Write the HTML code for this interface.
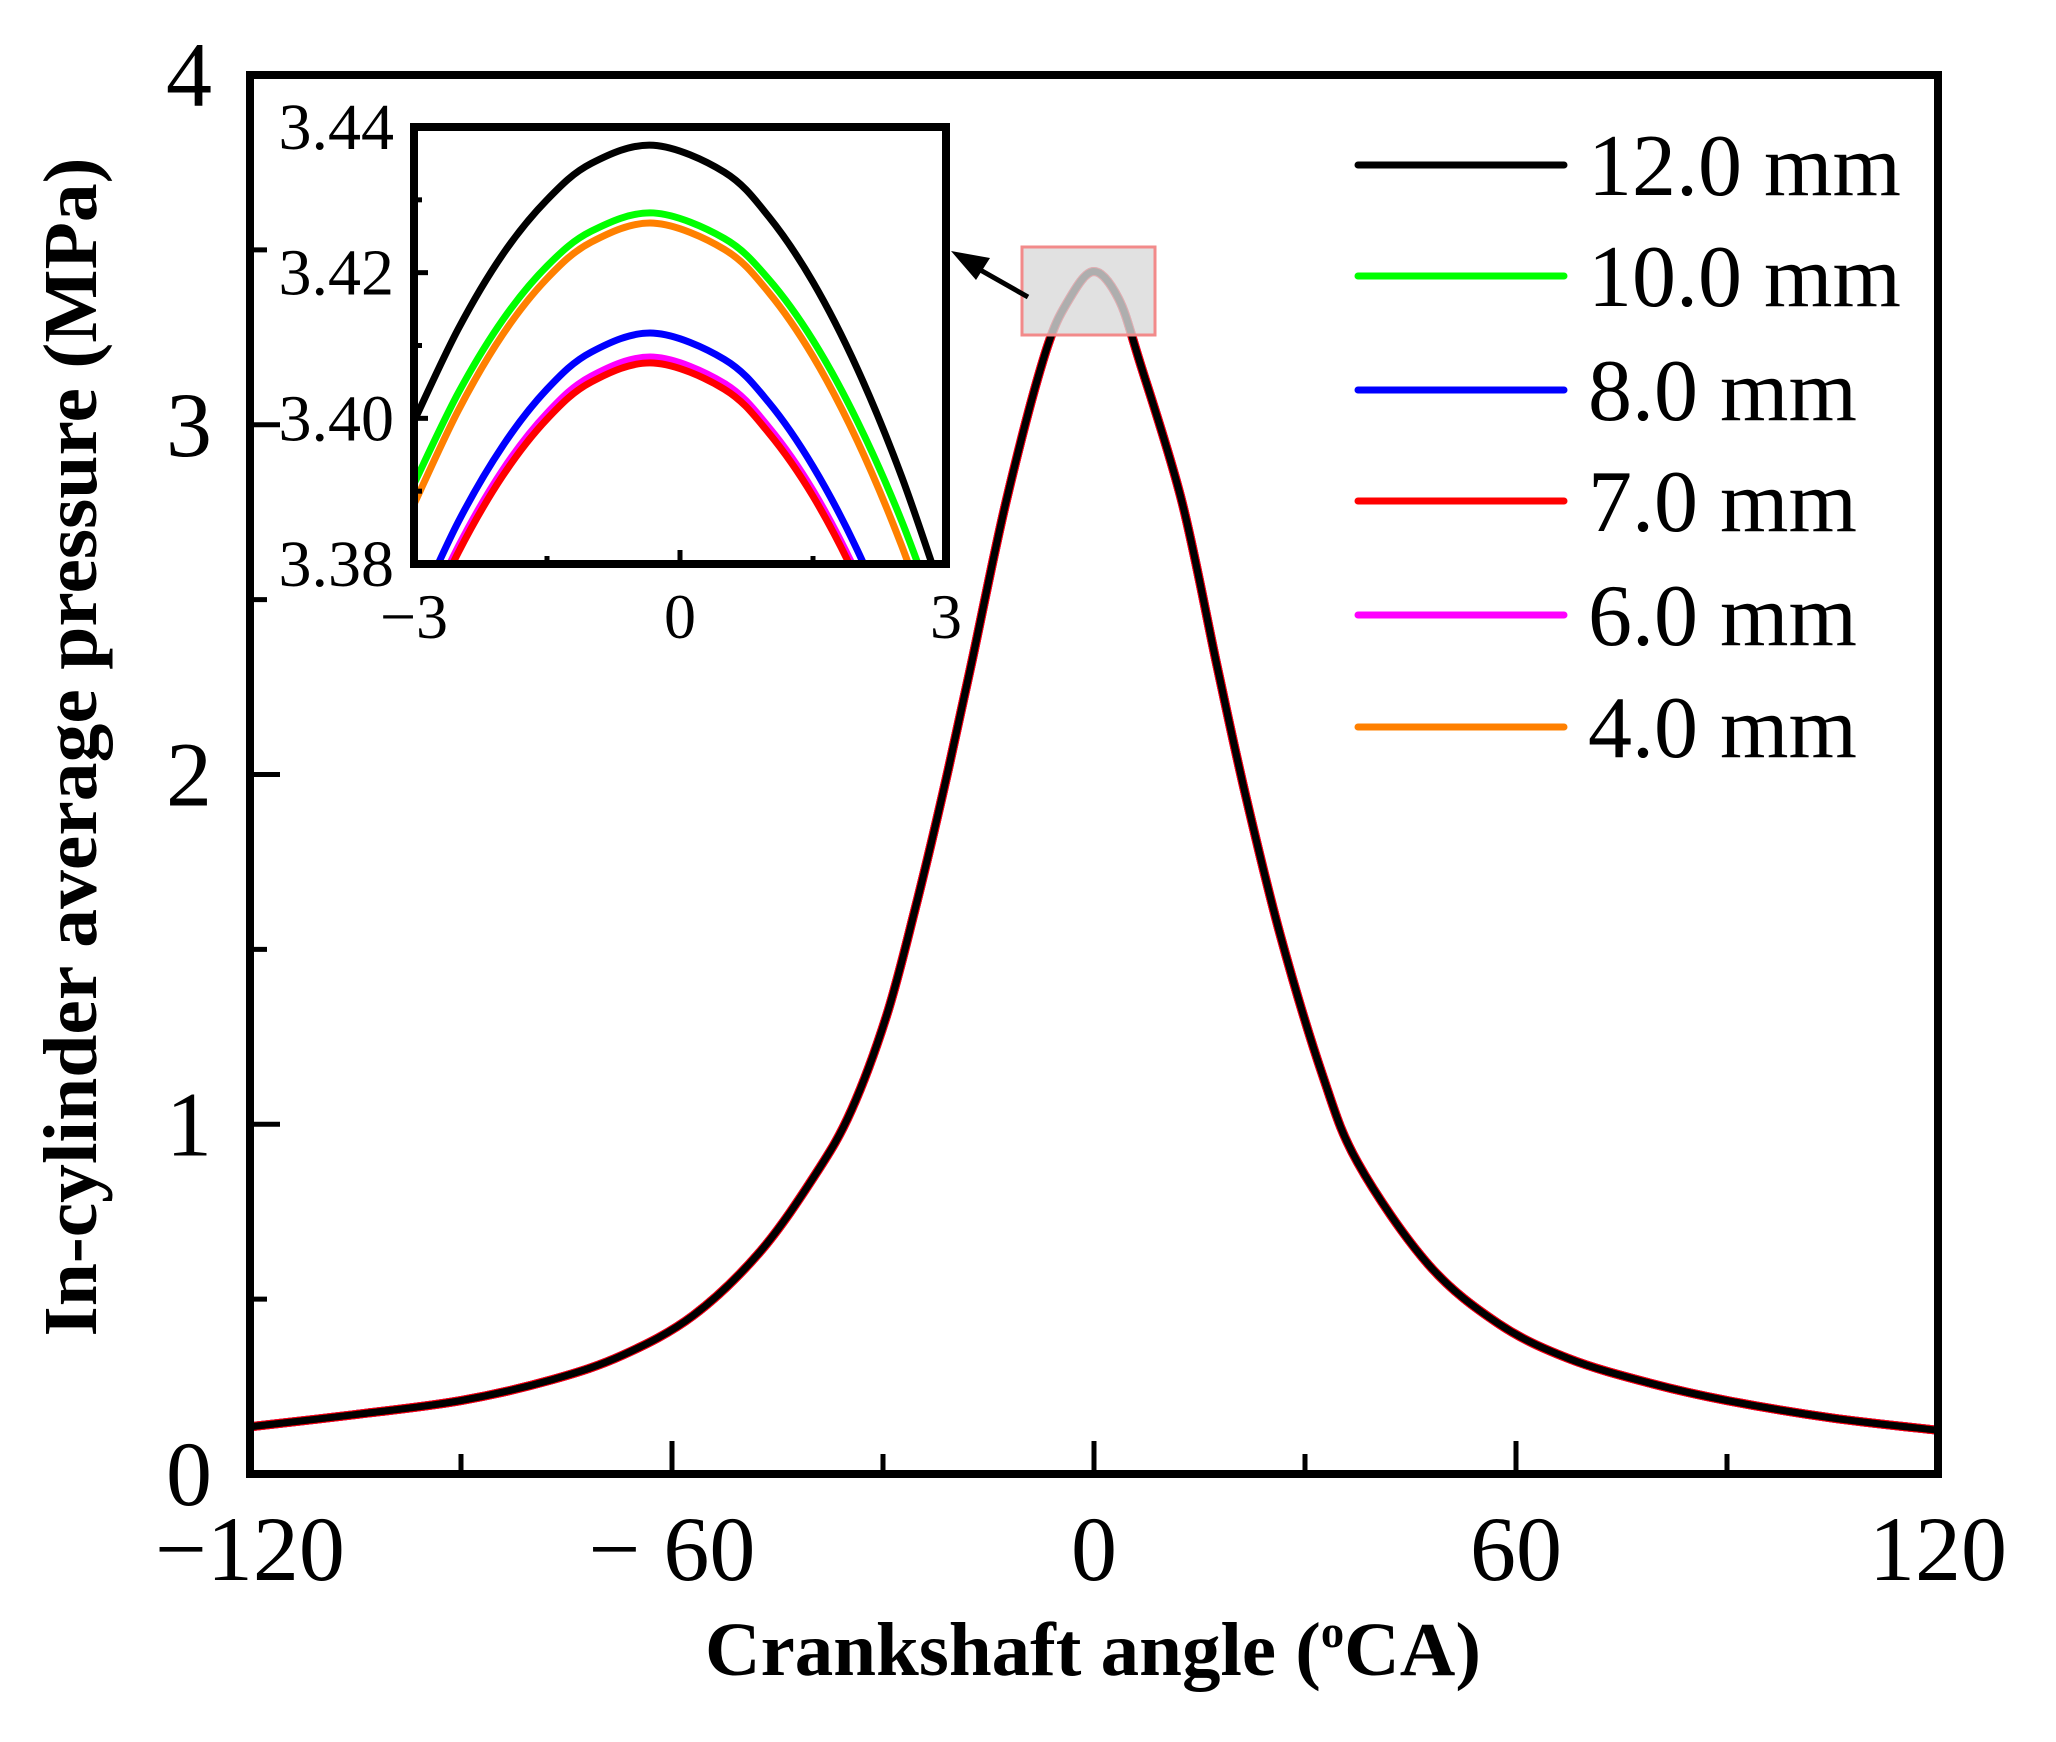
<!DOCTYPE html>
<html><head><meta charset="utf-8"><style>
html,body{margin:0;padding:0;background:#fff;}
svg{display:block;}
text{font-family:"Liberation Serif","Times New Roman",serif;fill:#000;}
</style></head><body>
<svg id="chart" width="2056" height="1742" viewBox="0 0 2056 1742" xmlns="http://www.w3.org/2000/svg">
<defs>
<clipPath id="insetClip"><rect x="414" y="127" width="532" height="437"/></clipPath>
<clipPath id="mainClip"><rect x="250" y="75" width="1688" height="1399"/></clipPath>
</defs>
<g id="main-series" clip-path="url(#mainClip)"></g>
<rect x="1022" y="247" width="133" height="88" fill="#d9d9d9" fill-opacity="0.8" stroke="#f28a8a" stroke-width="3"/>
<g id="axes"></g>
<g id="inset"></g>
<g id="legend"></g>
<line x1="1028" y1="297" x2="968" y2="263" stroke="#000" stroke-width="5"/>
<polygon points="951,251 990,258 976,280" fill="#000"/>
<text x="1093" y="1675" text-anchor="middle" font-size="76" font-weight="bold" textLength="776" lengthAdjust="spacingAndGlyphs">Crankshaft angle (<tspan font-size="46" dy="-28">o</tspan><tspan dy="28">CA)</tspan></text>
<text transform="translate(96,747) rotate(-90)" text-anchor="middle" font-size="76" font-weight="bold" textLength="1179" lengthAdjust="spacingAndGlyphs">In-cylinder average pressure (MPa)</text>
</svg>
<script>
// ---- main chart data ----
const mainAngles = [-120,-105,-90,-77,-67,-57,-47.5,-39.5,-34.5,-29.5,-25.5,-21.5,-17.5,-12.5,-7,-3.5,0,3.5,6.5,12.5,17.5,21.5,26.5,32.5,37.5,47.5,57.5,67.5,79,90,105,120];
const mainPressure = [0.135,0.17,0.21,0.27,0.34,0.453,0.635,0.86,1.04,1.31,1.61,1.945,2.31,2.78,3.20,3.36,3.438,3.36,3.18,2.78,2.31,1.945,1.54,1.14,0.89,0.60,0.43,0.33,0.26,0.21,0.16,0.125];
const xTicksMajor = [-120,-60,0,60,120];
const xTicksMinor = [-90,-30,30,90];
const xTickLabels = ["\u2212120","\u2212 60","0","60","120"];
const yTicksMajor = [0,1,2,3,4];
const yTicksMinor = [0.5,1.5,2.5,3.5];
const yTickLabels = ["0","1","2","3","4"];
// ---- series ----
const seriesNames = ["12.0 mm","10.0 mm","8.0 mm","7.0 mm","6.0 mm","4.0 mm"];
const seriesColors = ["#000000","#00ff00","#0000ff","#ff0000","#ff00ff","#ff8000"];
// ---- inset data ----
const insetAngles = [-3,-2.5,-2,-1.5,-1,-0.3,0.5,1,1.5,2,2.5,3];
const inset12 = [3.3996,3.4123,3.4225,3.4300,3.4350,3.4375,3.4338,3.4277,3.4187,3.4068,3.3920,3.3743];
const inset10 = [3.3910,3.4035,3.4135,3.4209,3.4257,3.4282,3.4247,3.4191,3.4107,3.3996,3.3859,3.3694];
const inset8  = [3.3727,3.3858,3.3962,3.4040,3.4091,3.4117,3.4081,3.4022,3.3934,3.3819,3.3675,3.3503];
const inset7  = [3.3685,3.3816,3.3921,3.3999,3.4050,3.4076,3.4040,3.3980,3.3893,3.3777,3.3632,3.3460];
const inset6  = [3.3693,3.3824,3.3929,3.4007,3.4058,3.4084,3.4048,3.3988,3.3901,3.3785,3.3640,3.3468];
const inset4  = [3.3882,3.4011,3.4115,3.4192,3.4242,3.4268,3.4232,3.4173,3.4085,3.3969,3.3825,3.3653];
const insetXTicks = [-3,0,3];
const insetXMinor = [-1.5,1.5];
const insetYTicks = [3.38,3.40,3.42,3.44];
const insetYMinor = [3.39,3.41,3.43];
const insetYLabels = ["3.38","3.40","3.42","3.44"];

const NS="http://www.w3.org/2000/svg";
function mk(tag,attrs,parent){const e=document.createElementNS(NS,tag);for(const k in attrs)e.setAttribute(k,attrs[k]);parent.appendChild(e);return e;}
const L=250,R=1938,T=75,B=1474;
const xs=v=>L+(v+120)/240*(R-L);
const ys=v=>B-v/4*(B-T);
const IL=414,IR=946,IT=127,IB=564;
const ixs=v=>IL+(v+3)/6*(IR-IL);
const iys=v=>IB-(v-3.38)/0.06*(IB-IT);

function smoothPath(px,py){
  let d="M"+px[0].toFixed(2)+","+py[0].toFixed(2);
  for(let i=0;i<px.length-1;i++){
    const x0=px[Math.max(i-1,0)],y0=py[Math.max(i-1,0)],x1=px[i],y1=py[i],x2=px[i+1],y2=py[i+1],x3=px[Math.min(i+2,px.length-1)],y3=py[Math.min(i+2,px.length-1)];
    const c1x=x1+(x2-x0)/6,c1y=y1+(y2-y0)/6,c2x=x2-(x3-x1)/6,c2y=y2-(y3-y1)/6;
    d+=" C"+c1x.toFixed(2)+","+c1y.toFixed(2)+" "+c2x.toFixed(2)+","+c2y.toFixed(2)+" "+x2.toFixed(2)+","+y2.toFixed(2);
  }
  return d;
}

const mg=document.getElementById("main-series");
const order=[1,5,2,4,3,0];
const insetSeries=[inset12,inset10,inset8,inset7,inset6,inset4];
order.forEach(i=>{
  const p=mk("path",{d:smoothPath(mainAngles.map(xs),mainPressure.map(ys)),fill:"none",stroke:seriesColors[i],"stroke-width":i===0?7:9,"stroke-linejoin":"round"},mg);
  
  
});

// axes
const ax=document.getElementById("axes");
const frame=mk("rect",{x:L,y:T,width:R-L,height:B-T,fill:"none",stroke:"#000","stroke-width":8},ax);


xTicksMajor.forEach((v,i)=>{
  const t=mk("line",{x1:xs(v),x2:xs(v),y1:B,y2:B-33,stroke:"#000","stroke-width":5},ax);
  
  
  const lb=mk("text",{x:xs(v),y:1580,"text-anchor":"middle","font-size":92},ax);
  lb.textContent=xTickLabels[i];
  
  
});
xTicksMinor.forEach(v=>{
  const t=mk("line",{x1:xs(v),x2:xs(v),y1:B,y2:B-20,stroke:"#000","stroke-width":5},ax);
  
  
});
yTicksMajor.forEach((v,i)=>{
  const t=mk("line",{x1:L,x2:L+30,y1:ys(v),y2:ys(v),stroke:"#000","stroke-width":5},ax);
  
  
  const lb=mk("text",{x:212,y:ys(v)+31,"text-anchor":"end","font-size":92},ax);
  lb.textContent=yTickLabels[i];
  
  
});
yTicksMinor.forEach(v=>{
  const t=mk("line",{x1:L,x2:L+17,y1:ys(v),y2:ys(v),stroke:"#000","stroke-width":5},ax);
  
  
});

// inset
const ins=document.getElementById("inset");
const ibg=mk("rect",{x:IL,y:IT,width:IR-IL,height:IB-IT,fill:"#fff"},ins);


const icl=mk("g",{"clip-path":"url(#insetClip)"},ins);


order.forEach(i=>{
  const p=mk("path",{d:smoothPath(insetAngles.map(ixs),insetSeries[i].map(iys)),fill:"none",stroke:seriesColors[i],"stroke-width":7},icl);
  
  
});
const ifr=mk("rect",{x:IL,y:IT,width:IR-IL,height:IB-IT,fill:"none",stroke:"#000","stroke-width":8},ins);


insetXTicks.forEach(v=>{
  const t=mk("line",{x1:ixs(v),x2:ixs(v),y1:IB,y2:IB-14,stroke:"#000","stroke-width":5},ins);
  
  
  const lb=mk("text",{x:ixs(v),y:638,"text-anchor":"middle","font-size":64},ins);
  lb.textContent=v<0?"\u2212"+Math.abs(v):String(v);
  
  
});
insetXMinor.forEach(v=>{
  const t=mk("line",{x1:ixs(v),x2:ixs(v),y1:IB,y2:IB-8,stroke:"#000","stroke-width":5},ins);
  
  
});
insetYTicks.forEach((v,i)=>{
  const t=mk("line",{x1:IL,x2:IL+14,y1:iys(v),y2:iys(v),stroke:"#000","stroke-width":5},ins);
  
  
  const lb=mk("text",{x:394,y:iys(v)+22,"text-anchor":"end","font-size":66},ins);
  lb.textContent=insetYLabels[i];
  
  
});
insetYMinor.forEach(v=>{
  const t=mk("line",{x1:IL,x2:IL+8,y1:iys(v),y2:iys(v),stroke:"#000","stroke-width":5},ins);
  
  
});

// legend
const lg=document.getElementById("legend");
const legendRowY=[165,276,390,501,615,727];
seriesNames.forEach((n,i)=>{
  const g=mk("g",{},lg);
  
  
  const ln=mk("line",{x1:1358,x2:1564,y1:legendRowY[i],y2:legendRowY[i],stroke:seriesColors[i],"stroke-width":7,"stroke-linecap":"round"},g);
  
  
  const t=mk("text",{x:1588,y:legendRowY[i]+30,"font-size":88},g);
  t.textContent=n;
  
  
});
</script>
</body></html>
